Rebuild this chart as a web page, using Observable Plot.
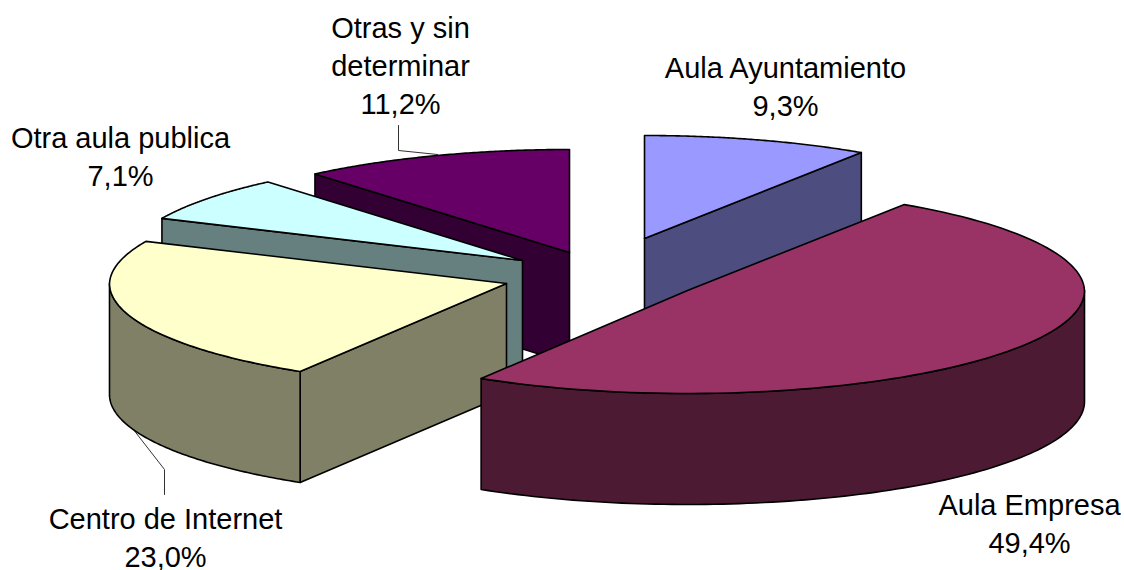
<!DOCTYPE html>
<html>
<head>
<meta charset="utf-8">
<script src="https://cdn.jsdelivr.net/npm/d3@7"></script>
<script src="https://cdn.jsdelivr.net/npm/@observablehq/plot@0.6"></script>
<style>html,body{margin:0;padding:0;background:#fff}svg{display:block}</style>
</head>
<body>
<div id="chart"></div>
<script>
// Data
const categories = ["Aula Ayuntamiento", "Aula Empresa", "Centro de Internet", "Otra aula publica", "Otras y sin determinar"];
const shares = [9.3, 49.4, 23.0, 7.1, 11.2];
const valueLabels = ["9,3%", "49,4%", "23,0%", "7,1%", "11,2%"];

// Styles
const topColors = ["#9999FF", "#993366", "#FFFFCC", "#CCFFFF", "#660066"];
const sideColors = ["#4D4D80", "#4D1A33", "#808066", "#668080", "#330033"];

// Layout of the exploded 3-D pie
const rx = 397, ry = 103, depth = 111, perspective = 0.012;
const centers = [[644, 238], [687, 290], [506, 283], [522, 260], [569, 252]];
const labelTexts = ["Aula Ayuntamiento", "Aula Empresa", "Centro de Internet", "Otra aula publica", "Otras y sin\ndeterminar"];
const labelAt = [[785, 68], [1029, 505], [165, 519], [120, 138], [400, 28]];
const leaders = [
  [[398, 125], [398, 150], [437, 154]],
  [[164, 494], [164, 469], [129, 424]]
];

const total = d3.sum(shares);
let acc = -90;
const slices = shares.map((v, i) => {
  const a0 = acc, a1 = acc + v / total * 360;
  acc = a1;
  return {i, a0, a1, cx: centers[i][0], cy: centers[i][1]};
});

const rad = (d) => d * Math.PI / 180;
const pt = (s, a, dz = 0) => {
  const c = Math.cos(rad(a)), n = Math.sin(rad(a));
  return {x: s.cx + rx * (1 + perspective * Math.min(0, n)) * c, y: s.cy + ry * n + dz};
};
const arc = (s, a0, a1, dz = 0) => d3.range(0, 101).map((k) => pt(s, a0 + (a1 - a0) * k / 100, dz));
const closed = (p) => [...p, p[0]];

const topFace = (s) => closed([{x: s.cx, y: s.cy}, ...arc(s, s.a0, s.a1)]);
// side wall along the radius that ends at angle a
const radialWall = (s, a) => {
  const e = pt(s, a), e2 = pt(s, a, depth);
  return closed([{x: s.cx, y: s.cy}, e, e2, {x: s.cx, y: s.cy + depth}]);
};
// outer rim wall, only the part facing the viewer
const rimWall = (s, a0, a1) => closed([...arc(s, a0, a1), ...arc(s, a1, a0, depth)]);

const [sA, sE, sC, sP, sO] = slices;
const faces = [
  {pts: radialWall(sO, sO.a0), color: sideColors[4]},
  {pts: topFace(sO), color: topColors[4]},
  {pts: radialWall(sA, sA.a1), color: sideColors[0]},
  {pts: topFace(sA), color: topColors[0]},
  {pts: radialWall(sP, sP.a0), color: sideColors[3]},
  {pts: topFace(sP), color: topColors[3]},
  {pts: radialWall(sC, sC.a0), color: sideColors[2]},
  {pts: rimWall(sC, sC.a0, 180), color: sideColors[2]},
  {pts: topFace(sC), color: topColors[2]},
  {pts: rimWall(sE, 0, sE.a1), color: sideColors[1]},
  {pts: topFace(sE), color: topColors[1]}
];

const labels = categories.map((c, i) => ({
  x: labelAt[i][0], y: labelAt[i][1], text: labelTexts[i] + "\n" + valueLabels[i]
}));

const plot = Plot.plot({
  width: 1124, height: 570,
  margin: 0,
  x: {domain: [0, 1124], range: [0, 1124], axis: null},
  y: {domain: [0, 570], range: [0, 570], axis: null},
  marks: [
    ...leaders.map((l) => Plot.line(l, {x: (d) => d[0], y: (d) => d[1], stroke: "#333", strokeWidth: 1})),
    ...faces.map((f) => Plot.line(f.pts, {x: "x", y: "y", fill: f.color, stroke: "black", strokeWidth: 1.6})),
    Plot.text(labels, {
      x: "x", y: "y", text: "text",
      lineAnchor: "top", dy: -17,
      lineHeight: 1.31, fontSize: 29, fill: "black",
      fontFamily: "Liberation Sans, Arial, sans-serif"
    })
  ]
});
document.getElementById("chart").append(plot);
</script>
</body>
</html>
